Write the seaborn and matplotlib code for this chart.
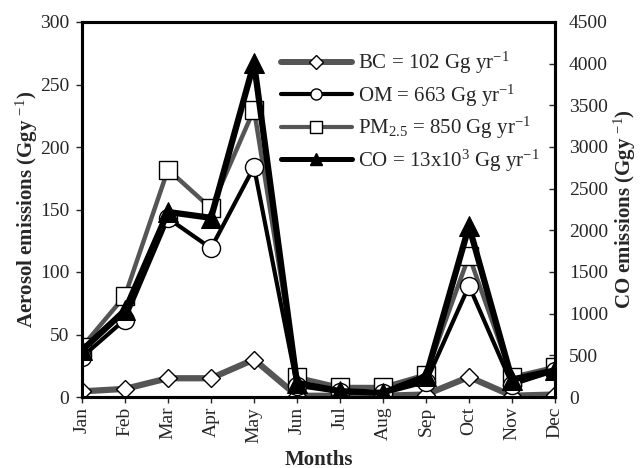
import matplotlib
matplotlib.use("Agg")
import matplotlib.pyplot as plt
import seaborn as sns
import numpy as np
from matplotlib.lines import Line2D

months = ["Jan", "Feb", "Mar", "Apr", "May", "Jun", "Jul", "Aug", "Sep", "Oct", "Nov", "Dec"]
bc = [4.5, 6.5, 15, 15, 30, 1, 1, 1, 2, 16, 1, 2]
om = [32, 62, 143, 119, 184, 9, 4, 3, 12, 89, 10, 21]
pm25 = [40, 81, 182, 151, 230, 16, 8, 8, 18, 113, 16, 24]
co = [560, 1040, 2220, 2150, 4010, 170, 70, 50, 250, 2050, 210, 320]

legend_labels = [
    "BC = 102 Gg yr$^{-1}$",
    "OM = 663 Gg yr$^{-1}$",
    "PM$_{2.5}$ = 850 Gg yr$^{-1}$",
    "CO = 13x10$^{3}$ Gg yr$^{-1}$",
]

sns.set_style("ticks")
plt.rcParams["font.family"] = ["Liberation Serif", "DejaVu Serif"]
plt.rcParams["mathtext.fontset"] = "custom"
plt.rcParams["mathtext.rm"] = "Liberation Serif"
plt.rcParams["mathtext.it"] = "Liberation Serif:italic"
plt.rcParams["mathtext.bf"] = "Liberation Serif:bold"

fig = plt.figure(figsize=(6.42, 4.68), dpi=100)
ax = fig.add_axes([82 / 642, 1 - 397 / 468, (555 - 82) / 642, (397 - 22) / 468])
ax2 = ax.twinx()

x = np.arange(len(months))
gray = "#555555"

sns.lineplot(x=x, y=bc, ax=ax, color=gray, lw=4.5, marker="D", markersize=9,
             markerfacecolor="white", markeredgecolor="black", markeredgewidth=1.0, zorder=3)
sns.lineplot(x=x, y=pm25, ax=ax, color=gray, lw=3.2, marker="s", markersize=13,
             markerfacecolor="white", markeredgecolor="black", markeredgewidth=1.0, zorder=4)
sns.lineplot(x=x, y=om, ax=ax, color="black", lw=3.0, marker="o", markersize=13,
             markerfacecolor="white", markeredgecolor="black", markeredgewidth=1.0, zorder=5)
sns.lineplot(x=x, y=co, ax=ax2, color="black", lw=4.5, marker="^", markersize=15,
             markerfacecolor="black", markeredgecolor="black", zorder=6)

ax.set_xlim(0, 11)
ax.set_ylim(0, 300)
ax2.set_ylim(0, 4500)
ax.set_yticks(np.arange(0, 301, 50))
ax2.set_yticks(np.arange(0, 4501, 500))
ax.set_xticks(x)
ax.set_xticklabels(months, rotation=90, fontsize=14)
ax.tick_params(axis="y", labelsize=14, direction="out", length=4, width=1, pad=5)
ax.tick_params(axis="x", direction="out", length=4, width=1, pad=3)
ax2.tick_params(axis="y", labelsize=14, direction="in", length=4, width=1, pad=10)

for a in (ax, ax2):
    for s in a.spines.values():
        s.set_visible(True)
        s.set_linewidth(2.2)
        s.set_color("black")

ax.set_xlabel("Months", fontsize=15, fontweight="bold", labelpad=5)
ax.set_ylabel("Aerosol emissions (Ggy $^{-1}$)", fontsize=15, fontweight="bold", labelpad=0)
ax2.set_ylabel("CO emissions (Ggy $^{-1}$)", fontsize=15, fontweight="bold", rotation=90, labelpad=3)

handles = [
    Line2D([], [], color=gray, lw=4.3, marker="D", markersize=7, markerfacecolor="white", markeredgecolor="black"),
    Line2D([], [], color="black", lw=3.0, marker="o", markersize=8, markerfacecolor="white", markeredgecolor="black"),
    Line2D([], [], color=gray, lw=3.0, marker="s", markersize=8, markerfacecolor="white", markeredgecolor="black"),
    Line2D([], [], color="black", lw=3.6, marker="^", markersize=8, markerfacecolor="black", markeredgecolor="black"),
]
fig.legend(handles, legend_labels, loc="upper left", bbox_to_anchor=(281 / 642, 1 - 50 / 468),
           frameon=False, fontsize=15, handlelength=3.4, handletextpad=0.3, labelspacing=0.3,
           borderpad=0, borderaxespad=0)

fig.savefig("out.png", dpi=100)
